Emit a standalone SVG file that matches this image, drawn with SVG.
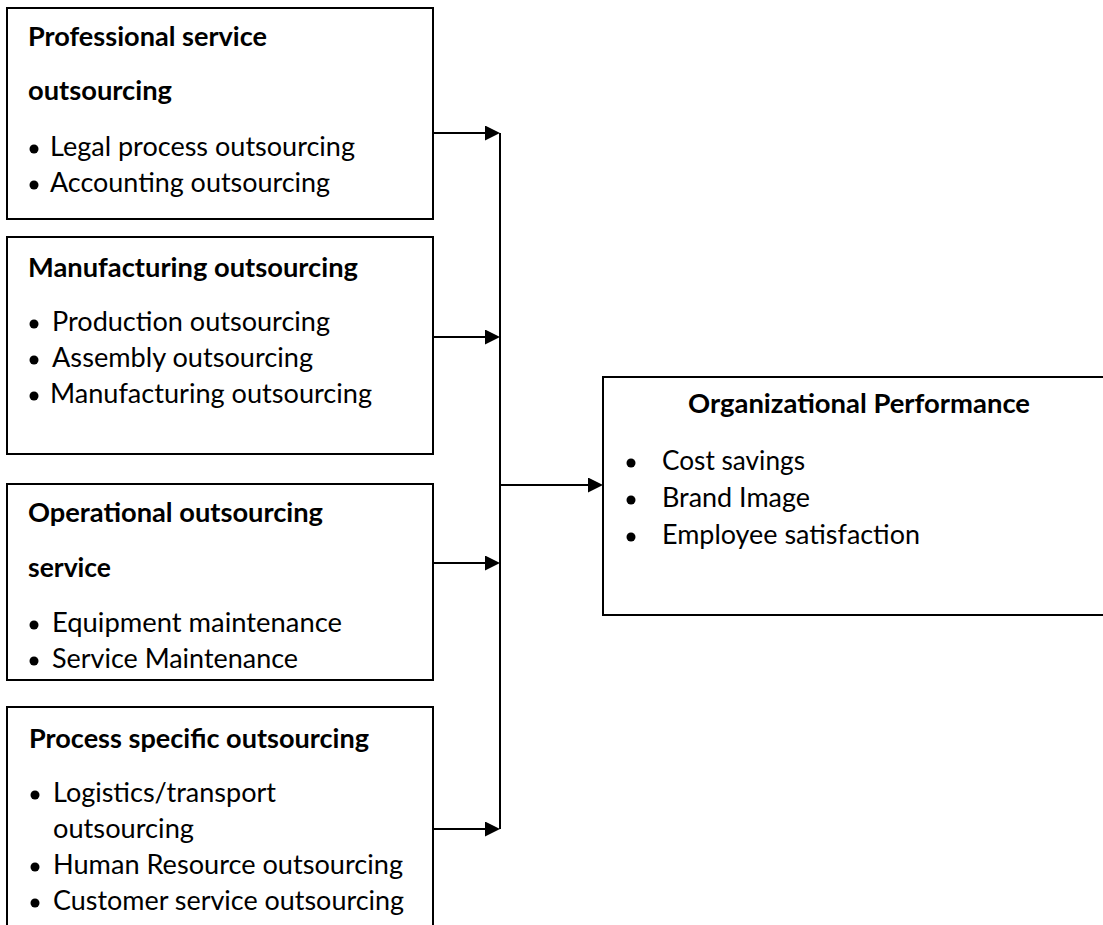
<svg xmlns="http://www.w3.org/2000/svg" width="1103" height="925" viewBox="0 0 1103 925">
  <style>
    .box { fill: #ffffff; stroke: #000000; stroke-width: 2; }
    .wire { fill: none; stroke: #000000; stroke-width: 2; }
    .hd { font-family: Lato, "Open Sans", "Liberation Sans", sans-serif; font-size: 27px; font-weight: bold; fill: #000000; }
    .it { font-family: Lato, "Open Sans", "Liberation Sans", sans-serif; font-size: 27px; fill: #000000; }
    .dot { fill: #000000; }
  </style>
  <defs>
    <marker id="arrow" markerUnits="userSpaceOnUse" markerWidth="16" markerHeight="16" refX="5" refY="7.5" orient="auto">
      <path d="M0,0 L15,7.5 L0,15 Z" fill="#000000"/>
    </marker>
  </defs>

  <rect width="1103" height="925" fill="#ffffff"/>

  <!-- Professional service outsourcing -->
  <g id="professional">
    <rect class="box" x="7" y="8" width="426" height="211"/>
    <text class="hd" x="28" y="46" textLength="239" lengthAdjust="spacingAndGlyphs">Professional service</text>
    <text class="hd" x="28" y="100" textLength="144" lengthAdjust="spacingAndGlyphs">outsourcing</text>
    <circle class="dot" cx="34" cy="149" r="4.5"/>
    <text class="it" x="50" y="156" textLength="305" lengthAdjust="spacingAndGlyphs">Legal process outsourcing</text>
    <circle class="dot" cx="34" cy="185" r="4.5"/>
    <text class="it" x="50" y="192" textLength="280" lengthAdjust="spacingAndGlyphs">Accounting outsourcing</text>
  </g>

  <!-- Manufacturing outsourcing -->
  <g id="manufacturing">
    <rect class="box" x="7" y="237" width="426" height="217"/>
    <text class="hd" x="28" y="277" textLength="330" lengthAdjust="spacingAndGlyphs">Manufacturing outsourcing</text>
    <circle class="dot" cx="34" cy="324" r="4.5"/>
    <text class="it" x="52" y="331" textLength="278" lengthAdjust="spacingAndGlyphs">Production outsourcing</text>
    <circle class="dot" cx="34" cy="360" r="4.5"/>
    <text class="it" x="52" y="367" textLength="261" lengthAdjust="spacingAndGlyphs">Assembly outsourcing</text>
    <circle class="dot" cx="34" cy="396" r="4.5"/>
    <text class="it" x="50" y="403" textLength="322" lengthAdjust="spacingAndGlyphs">Manufacturing outsourcing</text>
  </g>

  <!-- Operational outsourcing service -->
  <g id="operational">
    <rect class="box" x="7" y="484" width="426" height="196"/>
    <text class="hd" x="28" y="522" textLength="295" lengthAdjust="spacingAndGlyphs">Operational outsourcing</text>
    <text class="hd" x="28" y="577" textLength="83" lengthAdjust="spacingAndGlyphs">service</text>
    <circle class="dot" cx="34" cy="625" r="4.5"/>
    <text class="it" x="52" y="632" textLength="290" lengthAdjust="spacingAndGlyphs">Equipment maintenance</text>
    <circle class="dot" cx="34" cy="661" r="4.5"/>
    <text class="it" x="52" y="668" textLength="246" lengthAdjust="spacingAndGlyphs">Service Maintenance</text>
  </g>

  <!-- Process specific outsourcing (box runs past the bottom edge) -->
  <g id="process">
    <rect class="box" x="7" y="707" width="426" height="240"/>
    <text class="hd" x="29" y="748" textLength="340" lengthAdjust="spacingAndGlyphs">Process specific outsourcing</text>
    <circle class="dot" cx="35" cy="795" r="4.5"/>
    <text class="it" x="53" y="802" textLength="223" lengthAdjust="spacingAndGlyphs">Logistics/transport</text>
    <text class="it" x="53" y="838" textLength="141" lengthAdjust="spacingAndGlyphs">outsourcing</text>
    <circle class="dot" cx="35" cy="867" r="4.5"/>
    <text class="it" x="53" y="874" textLength="350" lengthAdjust="spacingAndGlyphs">Human Resource outsourcing</text>
    <circle class="dot" cx="35" cy="903" r="4.5"/>
    <text class="it" x="53" y="910" textLength="351" lengthAdjust="spacingAndGlyphs">Customer service outsourcing</text>
  </g>

  <!-- Organizational Performance (box runs past the right edge) -->
  <g id="performance">
    <rect class="box" x="603" y="377" width="520" height="238"/>
    <text class="hd" x="688" y="413" textLength="342" lengthAdjust="spacingAndGlyphs">Organizational Performance</text>
    <circle class="dot" cx="631" cy="463" r="4.5"/>
    <text class="it" x="662" y="470" textLength="143" lengthAdjust="spacingAndGlyphs">Cost savings</text>
    <circle class="dot" cx="631" cy="500" r="4.5"/>
    <text class="it" x="662" y="507" textLength="148" lengthAdjust="spacingAndGlyphs">Brand Image</text>
    <circle class="dot" cx="631" cy="537" r="4.5"/>
    <text class="it" x="662" y="544" textLength="258" lengthAdjust="spacingAndGlyphs">Employee satisfaction</text>
  </g>

  <!-- Connectors -->
  <g id="connectors">
    <line class="wire" x1="500" y1="133" x2="500" y2="829"/>
    <line class="wire" x1="433" y1="133" x2="490" y2="133" marker-end="url(#arrow)"/>
    <line class="wire" x1="433" y1="337" x2="490" y2="337" marker-end="url(#arrow)"/>
    <line class="wire" x1="433" y1="563" x2="490" y2="563" marker-end="url(#arrow)"/>
    <line class="wire" x1="433" y1="829" x2="490" y2="829" marker-end="url(#arrow)"/>
    <line class="wire" x1="500" y1="485" x2="593" y2="485" marker-end="url(#arrow)"/>
  </g>
</svg>
